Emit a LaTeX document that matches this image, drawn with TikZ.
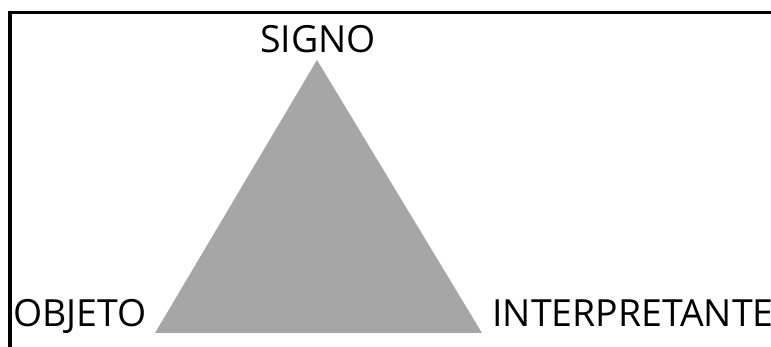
\documentclass[tikz,border=0pt]{standalone}
\usepackage{fontspec}
\setmainfont{Open Sans}
\usepackage{tikz}

\begin{document}
\begin{tikzpicture}[x=0.02cm, y=-0.02cm, font=\fontsize{21.3pt}{25pt}\selectfont]
  % ---------------------------------------------------------------- frame; unit = one pixel of the 771 x 347 page, y down
  \useasboundingbox (0,0) rectangle (771,347);
  \clip (0,0) rectangle (771,347);
  \draw[line width=0.06cm] (8,12.5) -- (771,12.5);
  \draw[line width=0.08cm] (10,11.5) -- (10,347);
  % the triangle
  \fill[black!35] (317,60) -- (155,333) -- (482,333) -- cycle;
  % the three corners
  \node[anchor=base, inner sep=0pt] (signo) at (318,53) {SIGNO};
  \node[anchor=base west, inner sep=0pt] (objeto) at (13,327) {OBJETO};
  \node[anchor=base west, inner sep=0pt] (interpretante) at (492,327) {INTERPRETANTE};
\end{tikzpicture}
\end{document}
